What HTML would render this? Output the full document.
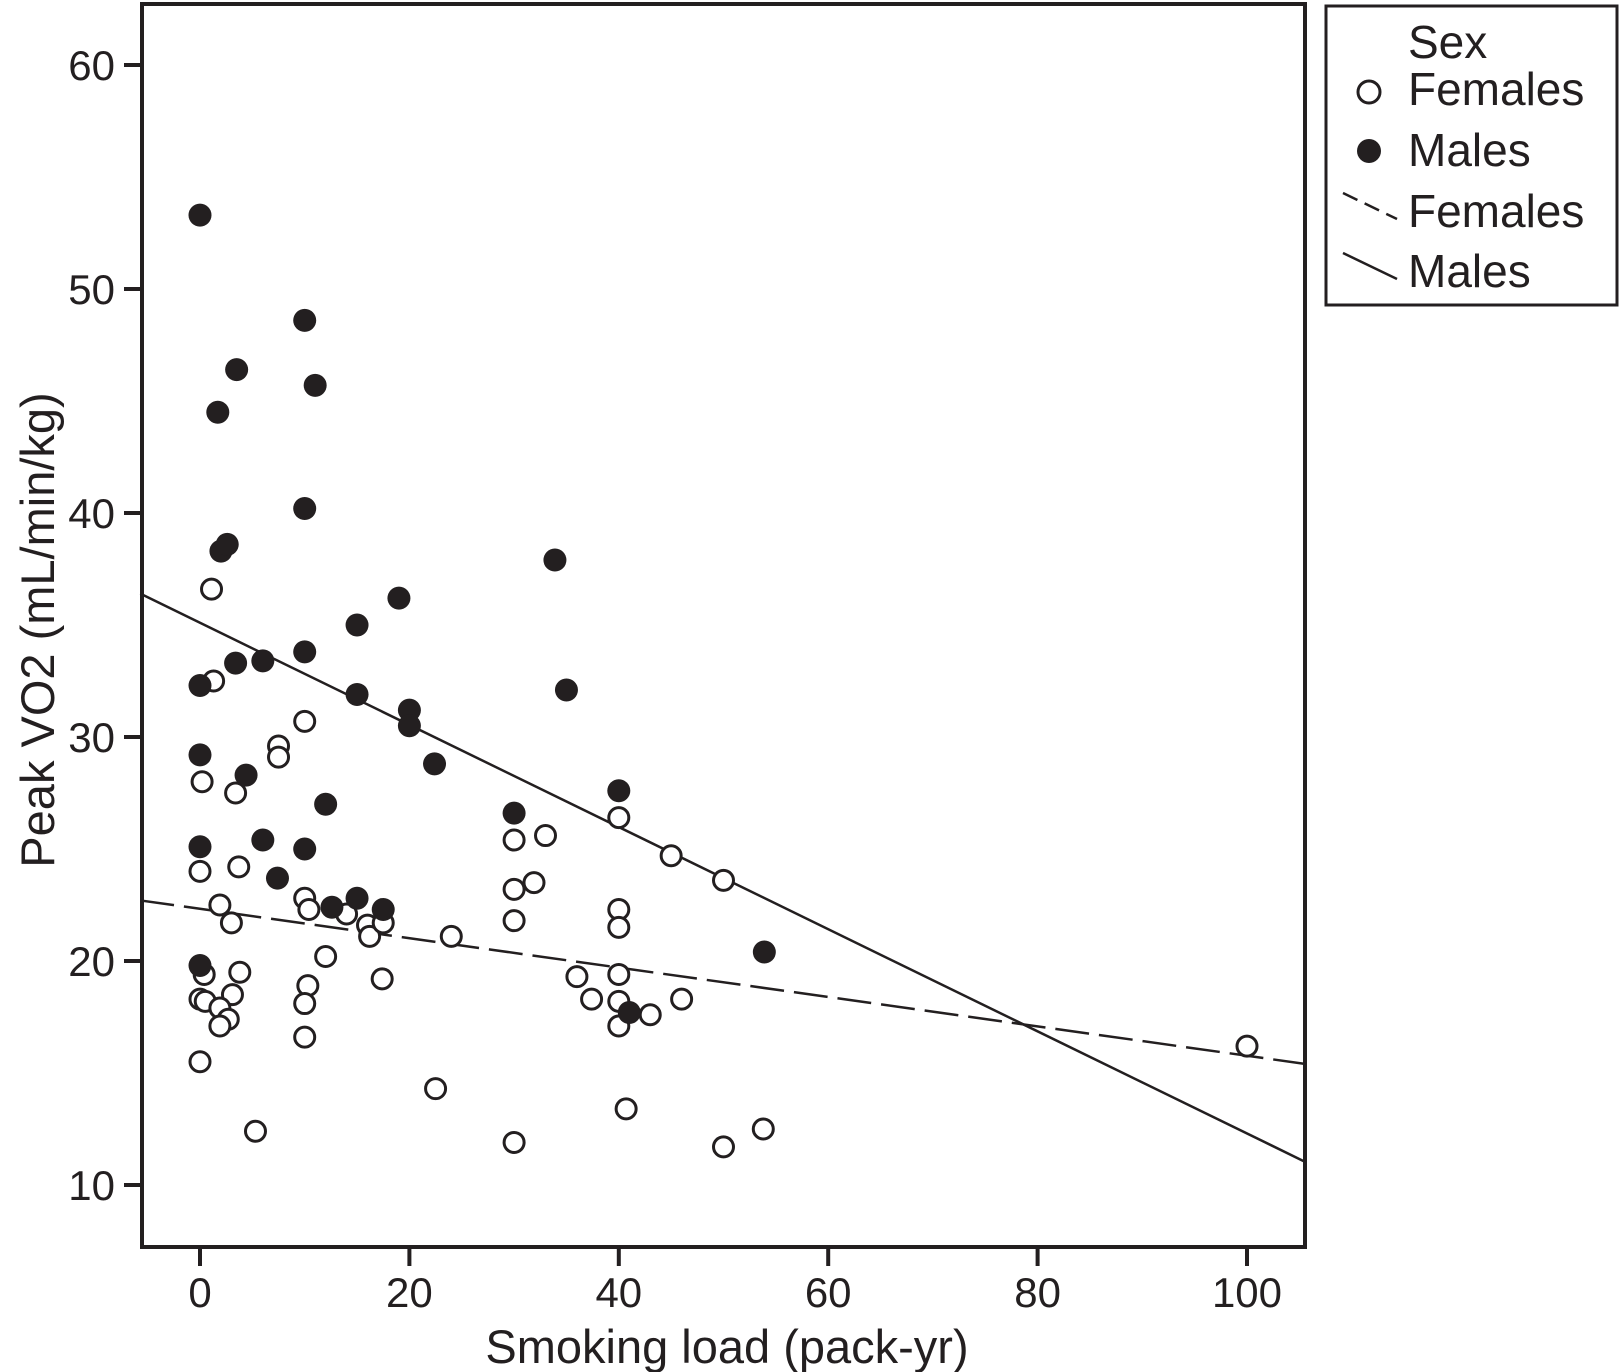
<!DOCTYPE html>
<html><head><meta charset="utf-8">
<style>html,body{margin:0;padding:0;background:#fff}svg{display:block}text{font-family:"Liberation Sans",Arial,sans-serif;fill:#231f20}</style>
</head><body>
<svg id="chart" width="1620" height="1372" viewBox="0 0 1620 1372" xmlns="http://www.w3.org/2000/svg">
<rect x="142" y="4" width="1163" height="1243" fill="none" stroke="#231f20" stroke-width="4"/>
<g id="xaxis"></g>
<g id="yaxis"></g>
<g id="lines"></g>
<g id="pts"></g>
<text x="727" y="1363" font-size="47" text-anchor="middle">Smoking load (pack-yr)</text>
<text transform="translate(54,630) rotate(-90)" font-size="47" text-anchor="middle">Peak VO2 (mL/min/kg)</text>
<g>
<rect x="1326" y="6" width="291" height="299" fill="#fff" stroke="#231f20" stroke-width="3"/>
<text x="1408" y="58" font-size="46">Sex</text>
<circle cx="1369" cy="92" r="11" fill="#fff" stroke="#231f20" stroke-width="3"/>
<text x="1408" y="105" font-size="46">Females</text>
<circle cx="1369" cy="151" r="12" fill="#231f20"/>
<text x="1408" y="166" font-size="46">Males</text>
<line x1="1343" y1="193" x2="1397" y2="219" stroke="#231f20" stroke-width="2.5" stroke-dasharray="16,8"/>
<text x="1408" y="227" font-size="46">Females</text>
<line x1="1343" y1="253" x2="1397" y2="279" stroke="#231f20" stroke-width="2.5"/>
<text x="1408" y="287" font-size="46">Males</text>
</g>
</svg>
<script>
const xTicks=[0,20,40,60,80,100];
const yTicks=[10,20,30,40,50,60];
const maleX=[0,10,3.5,1.7,11,10,2,2.6,33.9,19,15,10,6,3.4,0,35,15,20,20,0,22.4,4.4,12,40,30,6,0,10,7.4,15,12.6,17.5,0,53.9,41];
const maleY=[53.3,48.6,46.4,44.5,45.7,40.2,38.3,38.6,37.9,36.2,35.0,33.8,33.4,33.3,32.3,32.1,31.9,31.2,30.5,29.2,28.8,28.3,27.0,27.6,26.6,25.4,25.1,25.0,23.7,22.8,22.4,22.3,19.8,20.4,17.7];
const femaleX=[1.1,1.3,10,7.5,7.5,0.2,3.4,40,45,30,33,3.7,0,31.9,30,50,10,10.4,1.9,40,14,16,16.2,17.5,3,30,40,24,12,3.8,0.4,10.3,36,40,17.4,0,0.5,3.1,10,37.4,40,46,1.9,2.7,1.9,40,43,0,10,100,22.5,40.7,5.3,30,50,53.8];
const femaleY=[36.6,32.5,30.7,29.6,29.1,28.0,27.5,26.4,24.7,25.4,25.6,24.2,24.0,23.5,23.2,23.6,22.8,22.3,22.5,22.3,22.1,21.6,21.1,21.7,21.7,21.8,21.5,21.1,20.2,19.5,19.4,18.9,19.3,19.4,19.2,18.3,18.2,18.5,18.1,18.3,18.2,18.3,17.9,17.4,17.1,17.1,17.6,15.5,16.6,16.2,14.3,13.4,12.4,11.9,11.7,12.5];
const fitIntercept=[22.33,35.1];
const fitSlope=[-0.0656,-0.228];
const xMin=-5.7,xMax=105.6;
const NS='http://www.w3.org/2000/svg';
function sx(v){return 200+(v-0)*(1247-200)/100;}
function sy(v){return 1185-(v-10)*(1185-65)/50;}
function mk(tag,attrs,parent){const e=document.createElementNS(NS,tag);for(const k in attrs)e.setAttribute(k,attrs[k]);document.getElementById(parent).appendChild(e);return e;}
xTicks.forEach(t=>{
 const l=mk('line',{x1:sx(t),x2:sx(t),y1:1247,y2:1266,stroke:'#231f20','stroke-width':4},'xaxis');
 
 
 const tx=mk('text',{x:sx(t),y:1307,'font-size':42,'text-anchor':'middle'},'xaxis');tx.textContent=t;
 
 
});
yTicks.forEach(t=>{
 const l=mk('line',{x1:124,x2:142,y1:sy(t),y2:sy(t),stroke:'#231f20','stroke-width':4},'yaxis');
 
 
 const tx=mk('text',{x:115,y:sy(t)+15,'font-size':42,'text-anchor':'end'},'yaxis');tx.textContent=t;
 
 
});
femaleX.forEach((x,i)=>{
 const c=mk('circle',{cx:sx(x),cy:sy(femaleY[i]),r:10,fill:'#fff',stroke:'#231f20','stroke-width':3},'pts');
 
 
});
maleX.forEach((x,i)=>{
 const c=mk('circle',{cx:sx(x),cy:sy(maleY[i]),r:11.5,fill:'#231f20'},'pts');
 
 
});
fitIntercept.forEach((b,i)=>{
 const m=fitSlope[i];
 const a={x1:sx(xMin),y1:sy(b+m*xMin),x2:sx(xMax),y2:sy(b+m*xMax),stroke:'#231f20','stroke-width':2.5};
 if(i===0)a['stroke-dasharray']='34,10';
 const l=mk('line',a,'lines');
 
 
});
</script>
</body></html>
